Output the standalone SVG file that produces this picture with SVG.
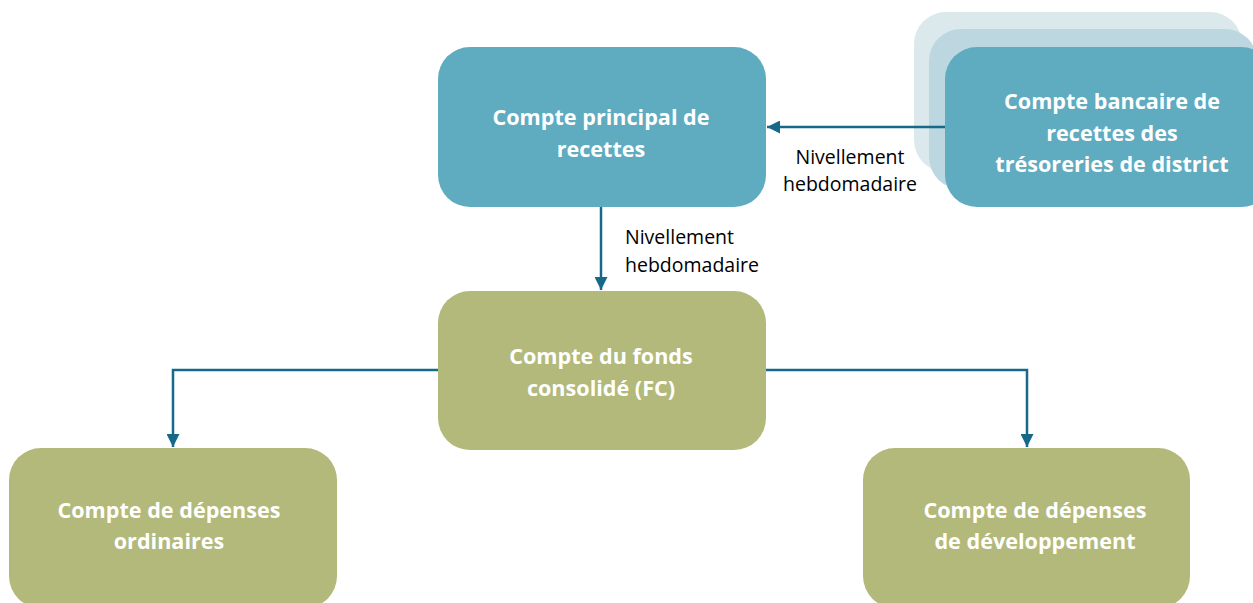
<svg xmlns="http://www.w3.org/2000/svg" width="1253" height="603" viewBox="0 0 1253 603">
<style>
.blue{fill:#5fabc0}
.green{fill:#b2b97a}
.t{font-family:"Open Sans","Liberation Sans",sans-serif;font-weight:bold;font-size:21.6px;fill:#ffffff;text-anchor:middle}
.lbl{font-family:"Open Sans","Liberation Sans",sans-serif;font-size:19.5px;fill:#000000}
.c{fill:none;stroke:#17698a;stroke-width:2.5}
</style>
<defs>
<marker id="ah" viewBox="0 0 10 10" refX="10" refY="5" markerWidth="5.2" markerHeight="5.2" orient="auto" markerUnits="strokeWidth">
<path d="M0,0 L10,5 L0,10 Z" fill="#17698a"/>
</marker>
</defs>
<rect width="1253" height="603" fill="#ffffff"/>
<g id="node-principal">
<rect class="blue" x="438" y="47" width="328" height="160" rx="32"/>
<text class="t" x="601" y="125">Compte principal de</text>
<text class="t" x="601" y="157">recettes</text>
</g>
<g id="node-district">
<rect x="914" y="12" width="328" height="160" rx="32" fill="#dbe8ec"/>
<rect x="929" y="29" width="328" height="160" rx="32" fill="#bcd7df"/>
<rect class="blue" x="945" y="47" width="328" height="160" rx="32"/>
<text class="t" x="1112" y="109">Compte bancaire de</text>
<text class="t" x="1112" y="141">recettes des</text>
<text class="t" x="1112" y="172">trésoreries de district</text>
</g>
<g id="node-fc">
<rect class="green" x="438" y="291" width="328" height="159" rx="32"/>
<text class="t" x="601" y="364">Compte du fonds</text>
<text class="t" x="601" y="396">consolidé (FC)</text>
</g>
<g id="node-ordinaires">
<rect class="green" x="9" y="448" width="328" height="160" rx="32"/>
<text class="t" x="169" y="518">Compte de dépenses</text>
<text class="t" x="169" y="549">ordinaires</text>
</g>
<g id="node-developpement">
<rect class="green" x="863" y="448" width="327" height="160" rx="32"/>
<text class="t" x="1035" y="518">Compte de dépenses</text>
<text class="t" x="1035" y="549">de développement</text>
</g>
<g id="connectors">
<path class="c" d="M601,207 L601,290" marker-end="url(#ah)"/>
<path class="c" d="M945,127 L767,127" marker-end="url(#ah)"/>
<path class="c" d="M438,370 L173,370 L173,447" marker-end="url(#ah)"/>
<path class="c" d="M766,370 L1027,370 L1027,447" marker-end="url(#ah)"/>
</g>
<g id="labels">
<text class="lbl" x="625" y="244">Nivellement</text>
<text class="lbl" x="625" y="272">hebdomadaire</text>
<text class="lbl" x="850" y="164" text-anchor="middle">Nivellement</text>
<text class="lbl" x="850" y="191" text-anchor="middle">hebdomadaire</text>
</g>
</svg>
